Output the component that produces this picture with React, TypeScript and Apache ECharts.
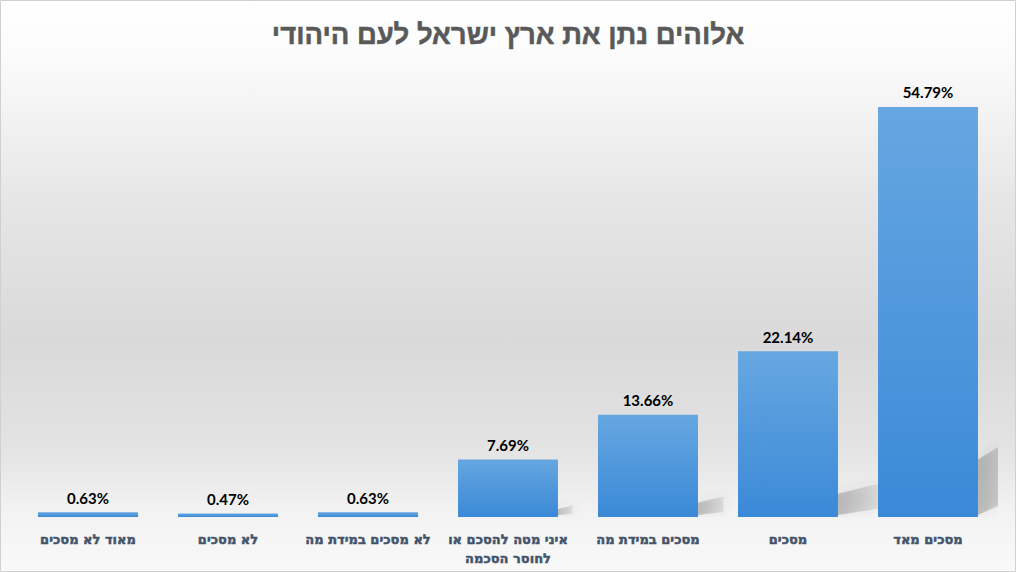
import React, { useEffect, useRef } from "react";
import * as echarts from "echarts";

const titleText = "אלוהים נתן את ארץ ישראל לעם היהודי";
const categories = [
  "מאוד לא מסכים",
  "לא מסכים",
  "לא מסכים במידת מה",
  "איני מטה להסכם או\nלחוסר הסכמה",
  "מסכים במידת מה",
  "מסכים",
  "מסכים מאד",
];
const values = [0.63, 0.47, 0.63, 7.69, 13.66, 22.14, 54.79];

export default function App() {
  const ref = useRef<HTMLDivElement>(null);
  useEffect(() => {
    document.body.style.margin = "0";
    const chart = echarts.init(ref.current!, null, { renderer: "svg" });
    const shadowData = values.map((v, i) => [i, v]);
    chart.setOption({
      animation: false,
      backgroundColor: {
        type: "linear",
        x: 0,
        y: 0,
        x2: 0,
        y2: 1,
        colorStops: [
          { offset: 0, color: "#ffffff" },
          { offset: 0.1, color: "#fbfbfb" },
          { offset: 0.35, color: "#e6e6e6" },
          { offset: 0.6, color: "#d9d9d9" },
          { offset: 0.78, color: "#e3e3e3" },
          { offset: 0.9, color: "#f3f3f3" },
          { offset: 1, color: "#f9f9f9" },
        ],
      },
      title: {
        text: titleText,
        left: "center",
        top: 15,
        textStyle: {
          fontFamily: "Liberation Sans, DejaVu Sans, sans-serif",
          fontSize: 27.5,
          fontWeight: "bold",
          color: "#595959",
          textBorderColor: "#595959",
          textBorderWidth: 0.5,
        },
      },
      grid: { left: 18, right: 18, top: 68, bottom: 55, containLabel: false },
      xAxis: {
        type: "category",
        data: categories,
        axisLine: { show: false },
        axisTick: { show: false },
        axisLabel: {
          interval: 0,
          margin: 13,
          color: "#44546a",
          fontWeight: "bold",
          fontSize: 13,
          lineHeight: 19,
          fontFamily: "DejaVu Sans, sans-serif",
          textBorderColor: "#44546a",
          textBorderWidth: 0.5,
        },
      },
      yAxis: { type: "value", min: 0, max: 60, show: false, splitLine: { show: false } },
      graphic: [
        {
          type: "rect",
          shape: { x: 0.5, y: 0.5, width: 1015, height: 571 },
          style: { fill: "none", stroke: "#d0d0d0", lineWidth: 1 },
          z: 100,
        },
      ],
      series: [
        {
          type: "custom",
          z: 1,
          clip: true,
          silent: true,
          data: shadowData,
          renderItem: (params: any, api: any) => {
            const idx = api.value(0);
            const v = api.value(1);
            const top = api.coord([idx, v]);
            const bottom = api.coord([idx, 0]);
            const band = api.size([1, 0])[0];
            const barW = band * 0.714;
            const xr = top[0] + barW / 2;
            const yb = bottom[1];
            const H = yb - top[1];
            const w = Math.min(0.25 * H, 40);
            return {
              type: "polygon",
              shape: {
                points: [
                  [xr, yb - 2],
                  [xr, yb - 0.14 * H],
                  [xr + w, yb - 0.2 * H],
                  [xr + w, yb - 0.05 * H],
                ],
              },
              style: {
                fill: {
                  type: "linear",
                  x: 0,
                  y: 0,
                  x2: 1,
                  y2: 0,
                  colorStops: [
                    { offset: 0, color: "rgba(110,110,110,0.38)" },
                    { offset: 1, color: "rgba(140,140,140,0.18)" },
                  ],
                },
                shadowBlur: 8,
                shadowColor: "rgba(90,90,90,0.35)",
              },
            };
          },
        },
        {
          type: "bar",
          z: 2,
          data: values,
          barWidth: "71.4%",
          itemStyle: {
            color: {
              type: "linear",
              x: 0,
              y: 0,
              x2: 0,
              y2: 1,
              colorStops: [
                { offset: 0, color: "#66a7e1" },
                { offset: 1, color: "#3a89d7" },
              ],
            },
          },
          label: {
            show: true,
            position: "top",
            distance: 7,
            formatter: (p: any) => p.value.toFixed(2) + "%",
            color: "#000000",
            fontWeight: "bold",
            fontSize: 15,
            fontFamily: "Lato, Noto Sans, sans-serif",
          },
        },
      ],
    });
    return () => chart.dispose();
  }, []);
  return <div ref={ref} style={{ width: 1016, height: 572 }} />;
}
